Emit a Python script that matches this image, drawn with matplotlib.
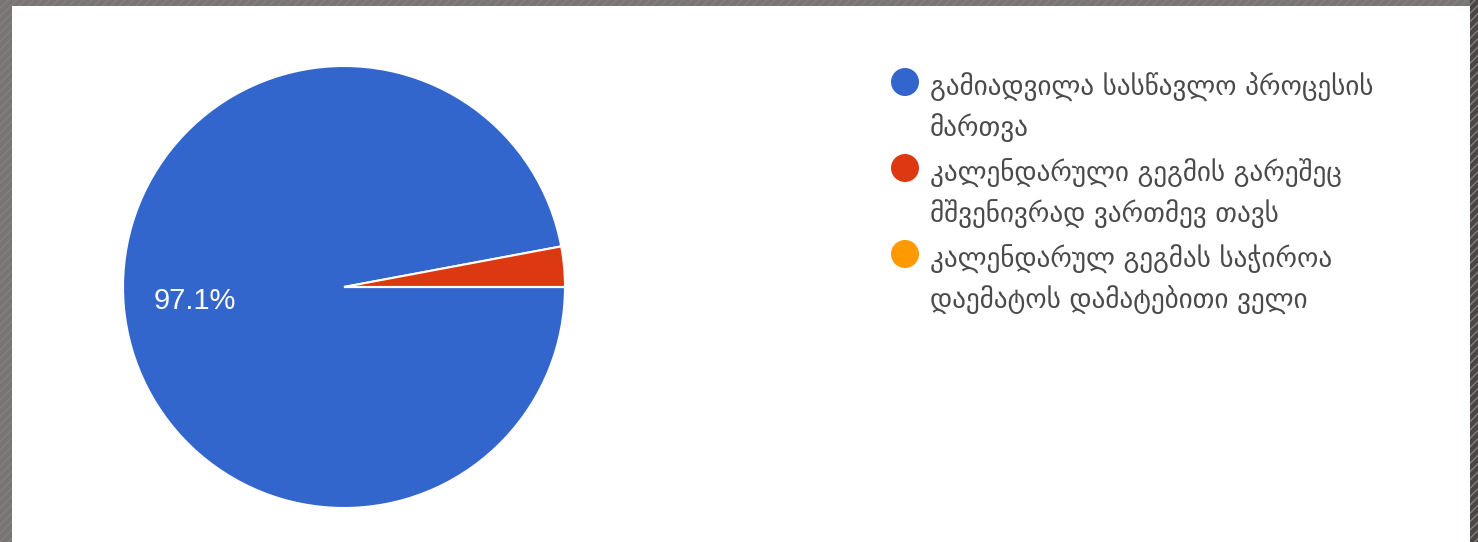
import matplotlib
matplotlib.use("Agg")
import matplotlib.pyplot as plt
from matplotlib.patches import Rectangle, Circle

# answers (Google Forms pie), counts read from 97.1 %
LABELS = [
    "გამიადვილა სასწავლო პროცესის\nმართვა",
    "კალენდარული გეგმის გარეშეც\nმშვენივრად ვართმევ თავს",
    "კალენდარულ გეგმას საჭიროა\nდაემატოს დამატებითი ველი",
]
COUNTS = [33, 1, 0]
COLORS = ["#3366cc", "#dc3912", "#ff9900"]

W, H = 1478, 542
fig = plt.figure(figsize=(W / 100, H / 100), dpi=100)
fig.patch.set_facecolor("white")

# striped grey frame (screenshot border)
for x0, y0, w, h, c in [(0, 0, 12, H, "#7a7575"),
                        (0, H - 6, W, 6, "#7a7575"),
                        (W - 8, 0, 8, H, "#4b4646")]:
    fig.patches.append(Rectangle((x0 / W, y0 / H), w / W, h / H,
                                 transform=fig.transFigure, facecolor=c,
                                 edgecolor="#858080", hatch="////",
                                 linewidth=0, zorder=5))

# pie: centre (344, 287) px from top, radius 221 px
cx, cy, r = 344, H - 287, 221
ax = fig.add_axes([(cx - r) / W, (cy - r) / H, 2 * r / W, 2 * r / H])
ax.pie(COUNTS, colors=COLORS, startangle=0, counterclock=False,
       radius=1.0, pctdistance=0.68,
       autopct=lambda p: f"{p:.1f}%" if p > 5 else "",
       wedgeprops=dict(edgecolor="white", linewidth=1.5),
       textprops=dict(color="white", fontsize=21,
                      family="Liberation Sans"))
ax.set_xlim(-1.0, 1.0)
ax.set_ylim(-1.0, 1.0)
ax.set_aspect("equal")
ax.axis("off")

# legend, drawn by hand to match the Google layout
lax = fig.add_axes([0, 0, 1, 1], facecolor="none")
lax.set_xlim(0, W)
lax.set_ylim(H, 0)
lax.axis("off")
y_rows = [82, 168, 254]
for lab, col, y in zip(LABELS, COLORS, y_rows):
    lax.add_patch(Circle((905, y), 14, facecolor=col, edgecolor="none"))
    lax.text(930, y - 9, lab, ha="left", va="top", fontsize=19.5,
             color="#4a4a4a", linespacing=1.5, family="DejaVu Sans")

fig.savefig("out.png", dpi=100)
